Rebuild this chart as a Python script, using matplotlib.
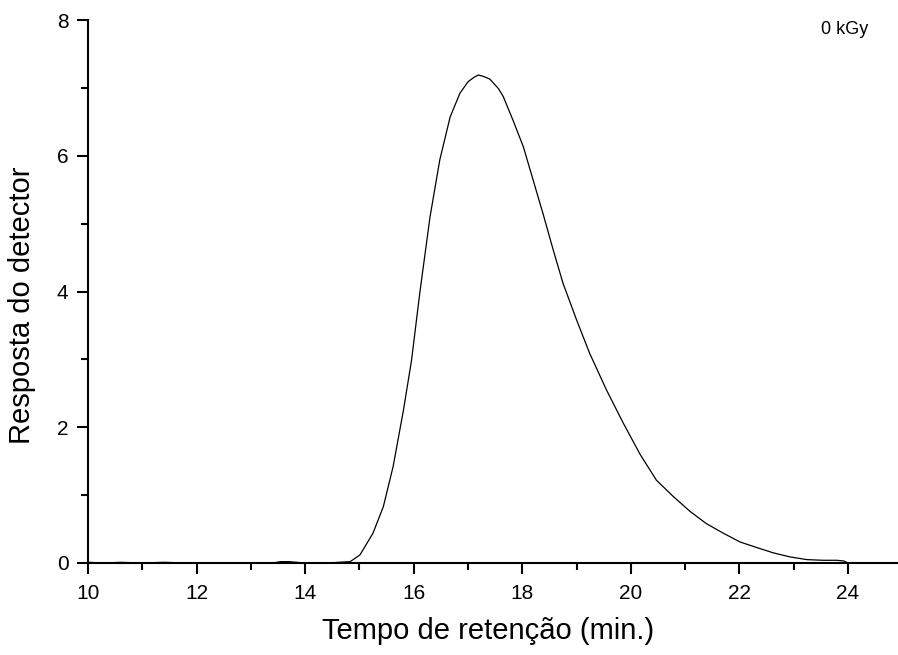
import matplotlib
matplotlib.use("Agg")
import matplotlib.pyplot as plt
from matplotlib.ticker import MultipleLocator

plt.rcParams['font.family'] = ['Liberation Sans', 'DejaVu Sans']

# retention time (min) and detector response
time_min = [10.0, 10.3, 10.6, 11.0, 11.4, 11.8, 12.2, 12.6, 13.0, 13.4, 13.55, 13.7, 13.85, 14.0,
            14.4, 14.83, 15.01, 15.25, 15.44, 15.62, 15.81, 15.96, 16.11, 16.30, 16.48,
            16.67, 16.85, 17.00, 17.10, 17.19, 17.28, 17.40, 17.56, 17.65, 17.83, 18.02,
            18.20, 18.38, 18.57, 18.75, 19.00, 19.24, 19.55, 19.86, 20.17, 20.47,
            20.78, 21.09, 21.39, 21.70, 22.01, 22.31, 22.62, 22.93, 23.24, 23.54,
            23.79, 23.92, 24.0]
response = [0.01, 0.0, 0.01, 0.0, 0.01, 0.0, 0.0, 0.0, 0.0, 0.0, 0.02, 0.02, 0.01, 0.0,
            0.0, 0.02, 0.12, 0.44, 0.83, 1.42, 2.25, 2.99, 3.97, 5.10, 5.94,
            6.57, 6.92, 7.09, 7.15, 7.19, 7.17, 7.13, 6.99, 6.87, 6.52, 6.13,
            5.64, 5.15, 4.61, 4.12, 3.58, 3.09, 2.55, 2.06, 1.60, 1.22,
            0.98, 0.76, 0.58, 0.44, 0.31, 0.23, 0.15, 0.09, 0.05, 0.04,
            0.04, 0.03, 0.0]

x_ticks = [10, 12, 14, 16, 18, 20, 22, 24]
y_ticks = [0, 2, 4, 6, 8]

W, H = 898, 655
fig = plt.figure(figsize=(W / 100, H / 100), dpi=100)
left, right, top, bottom = 88, 897, 20, 563
ax = fig.add_axes([left / W, 1 - bottom / H, (right - left) / W, (bottom - top) / H])

ax.plot(time_min, response, color='black', lw=0.9)

ax.set_xlim(10, 10 + (right - left) / 54.29)
ax.set_ylim(0, 8)
ax.set_xticks(x_ticks)
ax.set_yticks(y_ticks)
ax.xaxis.set_minor_locator(MultipleLocator(1))
ax.yaxis.set_minor_locator(MultipleLocator(1))

for s in ['top', 'right']:
    ax.spines[s].set_visible(False)
for s in ['left', 'bottom']:
    ax.spines[s].set_linewidth(1.5)

ax.tick_params(which='major', direction='out', length=8, width=1.5, labelsize=15)
ax.tick_params(axis='x', which='major', pad=7)
ax.tick_params(axis='y', which='major', pad=6)
ax.tick_params(which='minor', direction='out', length=5, width=1.5)

ax.set_xlabel('Tempo de retenção (min.)', fontsize=21)
ax.set_ylabel('Resposta do detector', fontsize=21)
ax.xaxis.set_label_coords(0.494, -0.1)
ax.yaxis.set_label_coords(-0.064, 0.475)

fig.text(845 / W, 1 - 30 / H, '0 kGy', fontsize=13, ha='center', va='center')

fig.savefig('out.png', dpi=100)
